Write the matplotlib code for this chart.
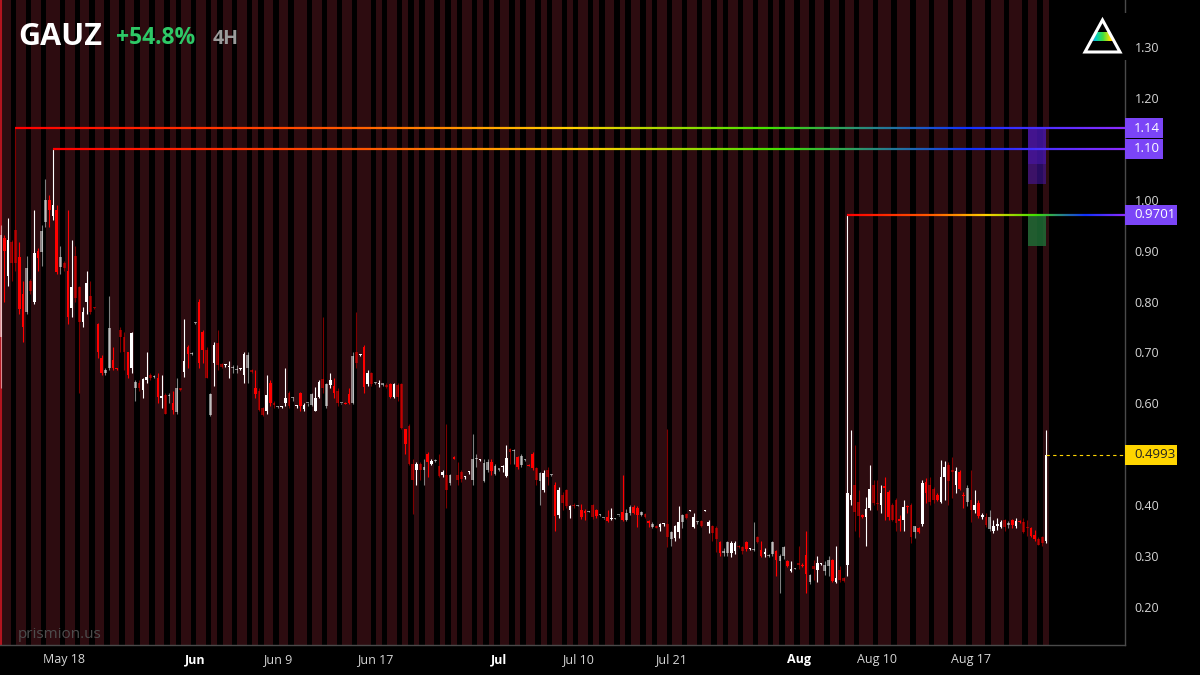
import numpy as np
import matplotlib
matplotlib.use('Agg')
import matplotlib.pyplot as plt
from matplotlib.collections import LineCollection
from matplotlib.colors import LinearSegmentedColormap
from matplotlib.patches import Rectangle, Polygon
from matplotlib.transforms import blended_transform_factory

plt.rcParams['font.family'] = ['Open Sans', 'DejaVu Sans']

# 4H candles, May 12 - Aug 21
opens = [
    .73, .925, .85, .917, .94, .887, .815, .78, .84, .80,
    .90, .897, .956, 1.0, .968, .98, .868, .875, .86, .787,
    .89, .828, .76, .80, .81, .79, .755, .69, .66, .67,
    .685, .67, .745, .73, .70, .67, .63, .64, .626, .645,
    .655, .652, .65, .61, .616, .615, .60, .583, .63, .662,
    .71, .697, .757, .80, .74, .705, .577, .68, .718, .678,
    .675, .672, .67, .665, .667, .656, .67, .665, .63, .625,
    .59, .585, .64, .60, .592, .593, .60, .62, .61, .594,
    .62, .588, .60, .597, .585, .613, .648, .595, .637, .635,
    .625, .60, .60, .618, .60, .70, .695, .71, .638, .66,
    .64, .638, .637, .637, .638, .613, .637, .638, .55, .555,
    .48, .47, .48, .47, .50, .48, .487, .476, .46, .46,
    .443, .495, .46, .465, .455, .465, .45, .49, .488, .447,
    .47, .485, .461, .47, .475, .458, .51, .507, .495, .479,
    .488, .478, .50, .473, .447, .43, .47, .46, .44, .381,
    .42, .43, .39, .40, .399, .39, .388, .387, .40, .39,
    .38, .374, .377, .372, .373, .38, .386, .37, .385, .397,
    .395, .38, .382, .368, .358, .36, .357, .363, .363, .333,
    .336, .347, .367, .382, .389, .357, .366, .368, .389, .36,
    .36, .356, .328, .306, .306, .306, .31, .32, .318, .327,
    .313, .312, .337, .312, .305, .30, .304, .31, .29, .30,
    .29, .27, .275, .287, .282, .302, .25, .28, .273, .285,
    .27, .28, .293, .25, .273, .256, .283, .41, .44, .407,
    .38, .377, .394, .44, .405, .40, .437, .425, .40, .41,
    .372, .37, .398, .40, .347, .355, .363, .445, .44, .432,
    .42, .406, .455, .478, .47, .44, .465, .42, .406, .41,
    .39, .405, .376, .377, .353, .35, .36, .357, .37, .362,
    .37, .36, .368, .366, .357, .355, .342, .334, .337, .33,
]
highs = [
    .95, .93, .965, .92, 1.14, .917, .84, .89, .845, .98,
    .905, .95, 1.04, 1.01, 1.10, .99, .91, .88, .98, .92,
    .91, .83, .79, .86, .84, .79, .757, .695, .67, .81,
    .71, .67, .75, .74, .70, .74, .645, .645, .65, .70,
    .66, .655, .66, .655, .62, .62, .625, .65, .63, .765,
    .715, .70, .76, .805, .745, .71, .62, .72, .745, .68,
    .678, .683, .675, .675, .67, .70, .70, .667, .665, .63,
    .592, .655, .645, .605, .595, .595, .67, .625, .612, .596,
    .622, .60, .60, .62, .632, .645, .77, .64, .66, .65,
    .63, .60, .602, .63, .70, .78, .697, .715, .665, .662,
    .642, .645, .638, .64, .64, .64, .64, .64, .55, .56,
    .49, .485, .485, .49, .505, .49, .49, .50, .47, .56,
    .462, .497, .485, .47, .457, .467, .54, .50, .49, .49,
    .49, .49, .48, .472, .478, .518, .512, .51, .497, .50,
    .49, .48, .505, .475, .465, .47, .475, .462, .445, .435,
    .425, .432, .40, .405, .40, .402, .392, .388, .403, .392,
    .383, .375, .39, .394, .374, .381, .46, .393, .40, .40,
    .398, .388, .384, .37, .366, .362, .365, .365, .55, .35,
    .362, .398, .382, .384, .39, .385, .368, .37, .39, .37,
    .362, .36, .33, .315, .33, .33, .33, .322, .32, .33,
    .315, .367, .34, .33, .315, .305, .33, .312, .305, .32,
    .292, .29, .276, .32, .286, .35, .265, .292, .30, .287,
    .29, .30, .295, .32, .28, .258, .9701, .548, .518, .43,
    .382, .416, .479, .45, .45, .44, .456, .43, .405, .415,
    .38, .41, .40, .405, .36, .357, .45, .453, .455, .435,
    .423, .489, .487, .485, .495, .475, .47, .425, .44, .47,
    .43, .41, .385, .385, .39, .37, .375, .37, .372, .368,
    .372, .375, .37, .375, .37, .357, .352, .338, .34, .548,
]
lows = [
    .63, .80, .83, .84, .86, .775, .72, .775, .815, .795,
    .86, .87, .946, .946, .96, .855, .855, .86, .755, .77,
    .80, .62, .75, .775, .775, .785, .69, .655, .655, .665,
    .665, .665, .70, .665, .65, .66, .605, .625, .61, .64,
    .645, .65, .60, .59, .58, .60, .58, .58, .625, .652,
    .67, .695, .755, .67, .68, .65, .575, .635, .665, .67,
    .672, .65, .66, .66, .665, .64, .64, .66, .61, .585,
    .575, .58, .595, .59, .59, .59, .595, .59, .605, .59,
    .585, .585, .595, .595, .585, .61, .62, .59, .63, .61,
    .595, .598, .598, .598, .598, .67, .693, .62, .635, .635,
    .638, .632, .635, .63, .61, .61, .605, .55, .50, .478,
    .383, .44, .45, .44, .455, .478, .485, .455, .455, .395,
    .44, .49, .44, .445, .452, .462, .44, .475, .486, .445,
    .465, .46, .46, .468, .465, .455, .48, .48, .472, .475,
    .486, .476, .47, .44, .40, .425, .44, .458, .35, .375,
    .39, .395, .375, .395, .398, .372, .37, .386, .372, .375,
    .378, .372, .366, .37, .372, .378, .368, .368, .38, .383,
    .357, .378, .374, .358, .356, .355, .35, .36, .318, .32,
    .33, .336, .356, .372, .388, .355, .364, .358, .388, .345,
    .33, .308, .30, .30, .30, .298, .305, .316, .305, .31,
    .312, .31, .325, .298, .298, .298, .30, .26, .228, .295,
    .278, .268, .274, .275, .278, .228, .245, .253, .25, .283,
    .262, .26, .25, .248, .25, .25, .26, .40, .35, .337,
    .375, .32, .39, .40, .39, .384, .37, .37, .368, .35,
    .35, .35, .385, .326, .335, .345, .36, .404, .40, .405,
    .408, .404, .41, .40, .415, .424, .43, .395, .398, .367,
    .385, .375, .372, .358, .35, .345, .352, .355, .35, .356,
    .355, .355, .365, .345, .34, .338, .33, .322, .32, .325,
]
closes = [
    .93, .90, .92, .875, .875, .785, .75, .865, .82, .895,
    .885, .938, 1.0, .98, .99, .858, .887, .865, .77, .828,
    .807, .76, .78, .836, .78, .787, .70, .66, .665, .748,
    .67, .668, .73, .70, .655, .738, .642, .63, .648, .652,
    .65, .654, .612, .614, .58, .615, .587, .63, .627, .683,
    .697, .698, .757, .68, .705, .65, .618, .715, .676, .672,
    .675, .674, .672, .667, .667, .697, .695, .662, .618, .587,
    .578, .616, .60, .596, .592, .593, .61, .595, .61, .594,
    .595, .597, .60, .618, .61, .642, .63, .638, .645, .62,
    .60, .60, .599, .60, .693, .68, .695, .632, .66, .638,
    .64, .64, .637, .632, .613, .638, .612, .552, .52, .48,
    .45, .48, .47, .475, .485, .486, .487, .458, .465, .43,
    .46, .49, .45, .452, .455, .465, .49, .49, .488, .483,
    .485, .467, .477, .47, .475, .492, .505, .508, .475, .496,
    .488, .477, .473, .45, .463, .463, .456, .46, .378, .43,
    .405, .398, .398, .398, .399, .377, .385, .387, .376, .378,
    .382, .374, .368, .375, .373, .38, .37, .385, .397, .384,
    .38, .386, .376, .365, .364, .356, .363, .363, .338, .347,
    .359, .367, .38, .375, .389, .377, .366, .36, .389, .367,
    .346, .334, .306, .31, .327, .325, .325, .318, .31, .314,
    .313, .313, .328, .30, .308, .302, .327, .292, .30, .317,
    .28, .274, .275, .282, .28, .264, .263, .275, .286, .285,
    .283, .292, .252, .256, .253, .252, .424, .42, .387, .378,
    .377, .392, .432, .405, .402, .424, .433, .377, .37, .365,
    .368, .396, .396, .337, .359, .348, .443, .424, .407, .41,
    .41, .455, .475, .447, .466, .468, .432, .418, .434, .39,
    .40, .378, .38, .362, .377, .36, .362, .367, .357, .365,
    .362, .368, .366, .348, .355, .34, .333, .3225, .325, .4993,
]

# number of 4H bars in each trading day
bars_per_day = [4, 4, 4, 5,
                4, 4, 4, 4, 4, 4, 4, 3, 4,
                4, 3, 4, 4, 3, 4,
                4, 5, 4, 4, 4, 5,
                3, 4, 3, 3, 4, 3, 3, 4, 3, 3,
                4, 3, 4, 3, 4, 3,
                4, 3, 4, 3, 4, 3, 4,
                4, 4, 4, 3, 4, 4, 4, 3, 4,
                4, 4, 4, 4, 5,
                5, 5, 5, 5, 5,
                5, 5, 5, 4, 2]
tick_days = [4, 13, 19, 25, 35, 41, 48, 57, 62, 67]
tick_labels = ['May 18', 'Jun', 'Jun 9', 'Jun 17', 'Jul', 'Jul 10', 'Jul 21', 'Aug', 'Aug 10', 'Aug 17']
month_ticks = ['Jun', 'Jul', 'Aug']
y_ticks = [0.2, 0.3, 0.4, 0.5, 0.6, 0.7, 0.8, 0.9, 1.0, 1.1, 1.2, 1.3]

levels = [1.14, 1.10, 0.9701]
level_labels = ['1.14', '1.10', '0.9701']
last_price = 0.4993
purple_zones = [(1.03, 1.14), (1.07, 1.14)]
green_zone = (0.91, 0.9701)
zone_start_bar = 274.2

assert len(opens) == len(highs) == len(lows) == len(closes) == sum(bars_per_day)

o = np.array(opens); h = np.array(highs); l = np.array(lows); c = np.array(closes)
n = len(c)
x = np.arange(n)
day_start = np.concatenate([[0], np.cumsum(bars_per_day)[:-1]])

# extended-hours bars: first and last bar of each day
ext = np.zeros(n, bool)
for i, (s, k) in enumerate(zip(day_start, bars_per_day)):
    ext[s] = True
    if i < len(bars_per_day) - 1:
        ext[s + k - 1] = True

BG = '#000000'
STRIPE = '#2d0c10'
fig = plt.figure(figsize=(12, 6.75), dpi=100, facecolor=BG)
ax = fig.add_axes([0, 30 / 675, 1125 / 1200, 645 / 675])
ax.set_facecolor(BG)

px = 3.747
ax.set_xlim(-0.5 / px, 1124.5 / px)
ax.set_ylim(1.30 - 598 * 1.1 / 560, 1.30 + 47 * 1.1 / 560)

# session stripes
for i, (s, k) in enumerate(zip(day_start, bars_per_day)):
    last = i == len(bars_per_day) - 1
    r0 = s + 1
    r1 = s + k - 1 if last else s + k - 2
    if r1 < r0:
        continue
    ax.axvspan(r0 - 0.75, r1 + 0.75, color=STRIPE, lw=0, zorder=0)
ax.axvline(ax.get_xlim()[0] + 0.15, color='#b3141f', lw=1.5, zorder=1)

# candles
up = c >= o
cols = []
for u, e in zip(up, ext):
    base = (1, 1, 1) if u else (1, 0, 0)
    cols.append(base + ((0.5,) if e else (1.0,)))
ax.vlines(x, l, h, colors=cols, lw=0.8, zorder=2)
body_lo = np.minimum(o, c)
body_h = np.maximum(np.abs(c - o), 0.0022)
ax.bar(x, body_h, bottom=body_lo, width=0.72, color=cols, lw=0, zorder=2)

# zones
for lo, hi in purple_zones:
    ax.add_patch(Rectangle((zone_start_bar, lo), n - 1 - zone_start_bar, hi - lo,
                           fc='#4a17b0', alpha=0.55, lw=0, zorder=2.5))
ax.add_patch(Rectangle((zone_start_bar, green_zone[0]), n - 1 - zone_start_bar,
                       green_zone[1] - green_zone[0], fc='#1f6b35', alpha=0.85, lw=0, zorder=2.5))

# rainbow levels
rainbow = LinearSegmentedColormap.from_list('rb', [(0, '#ff0000'), (0.3, '#ff5a00'), (0.5, '#ffd000'),
                                                   (0.68, '#40e000'), (0.86, '#1030ff'), (1, '#8a2cff')])
xr = ax.get_xlim()[1]
for lvl in levels:
    start = int(np.argmax(np.isclose(h, lvl)))
    xs = np.linspace(start, xr, 300)
    pts = np.column_stack([xs, np.full_like(xs, lvl)])
    segs = np.stack([pts[:-1], pts[1:]], axis=1)
    lc = LineCollection(segs, colors=rainbow(np.linspace(0, 1, len(segs))), lw=1.6, zorder=3)
    ax.add_collection(lc)

ax.plot([n - 1, xr], [last_price, last_price], color='#ffd500', lw=0.8, ls=(0, (3, 3)), zorder=3)

# axes styling
for s in ['top', 'left']:
    ax.spines[s].set_visible(False)
for s in ['bottom', 'right']:
    ax.spines[s].set_color('#4a4a4a')
    ax.spines[s].set_linewidth(1)
ax.yaxis.tick_right()
ax.set_yticks(y_ticks)
# labels hidden under the price boxes are left blank
covered = [1.1, 0.5]
ax.set_yticklabels(['' if any(abs(v - cv) < 1e-9 for cv in covered) else '%.2f' % v for v in y_ticks])
ax.set_xticks(day_start[tick_days])
ax.set_xticklabels(tick_labels)
ax.tick_params(axis='y', length=0, pad=7, labelsize=9, labelcolor='#d6d6d6')
ax.tick_params(axis='x', length=0, pad=6, labelsize=9, labelcolor='#d6d6d6')
for t in ax.get_xticklabels():
    if t.get_text() in month_ticks:
        t.set_fontweight('bold')
        t.set_color('#ffffff')

# price labels on the axis
tr = blended_transform_factory(ax.transAxes, ax.transData)
hpx = 1.1 / 560
boxes = list(zip(levels, level_labels)) + [(last_price, '%.4f' % last_price)]
for lvl, txt in boxes:
    w = (52 if len(txt) > 4 else 38) / 1125
    yellow = lvl == last_price
    ax.add_patch(Rectangle((1.0, lvl - 10 * hpx), w, 20 * hpx, transform=tr, clip_on=False,
                           fc='#ffd500' if yellow else '#7b45f7', lw=0, zorder=5))
    ax.text(1.0 + 9 / 1125, lvl, txt, transform=tr, clip_on=False, ha='left', va='center',
            fontsize=9.5, color='#222222' if yellow else '#ffffff', zorder=6)

# title
fig.text(18 / 1200, 1 - 37 / 675, 'GAUZ', fontsize=22, fontweight='bold', color='#ffffff', va='center')
fig.text(116 / 1200, 1 - 38 / 675, '+54.8%', fontsize=16.5, fontweight='bold', color='#2ec866', va='center')
fig.text(213 / 1200, 1 - 39 / 675, '4H', fontsize=14, fontweight='bold', color='#9b9b9b', va='center')
fig.text(18 / 1200, 1 - 635 / 675, 'prismion.us', fontsize=11, color='#4d4d4d', va='center')

# logo
lax = fig.add_axes([1078 / 1200, 1 - 60 / 675, 52 / 1200, 47 / 675])
lax.set_facecolor(BG)
lax.axis('off')
lax.add_patch(Rectangle((0, 13), 52, 47, fc=BG, lw=0, zorder=0))
band = Polygon([(7 + 35 * 11 / 64, 41), (42 - 35 * 11 / 64, 41),
                (42 - 35 * 20 / 64, 32), (7 + 35 * 20 / 64, 32)],
               closed=True, fc='none', lw=0)
lax.add_patch(band)
grad = LinearSegmentedColormap.from_list('lg', ['#3a3cff', '#00c8c8', '#40e040', '#ffe000', '#ff6a00'])
im = lax.imshow(np.linspace(0, 1, 64)[None, :], cmap=grad, extent=[10, 40, 41, 32], aspect='auto', zorder=1)
im.set_clip_path(band)
lax.add_patch(Polygon([(24.5, 20), (42, 52), (7, 52)], closed=True, fc='none', ec='#ffffff', lw=2.2, zorder=2))
lax.set_xlim(0, 52); lax.set_ylim(60, 13)

fig.savefig('out.png', dpi=100, facecolor=BG)
